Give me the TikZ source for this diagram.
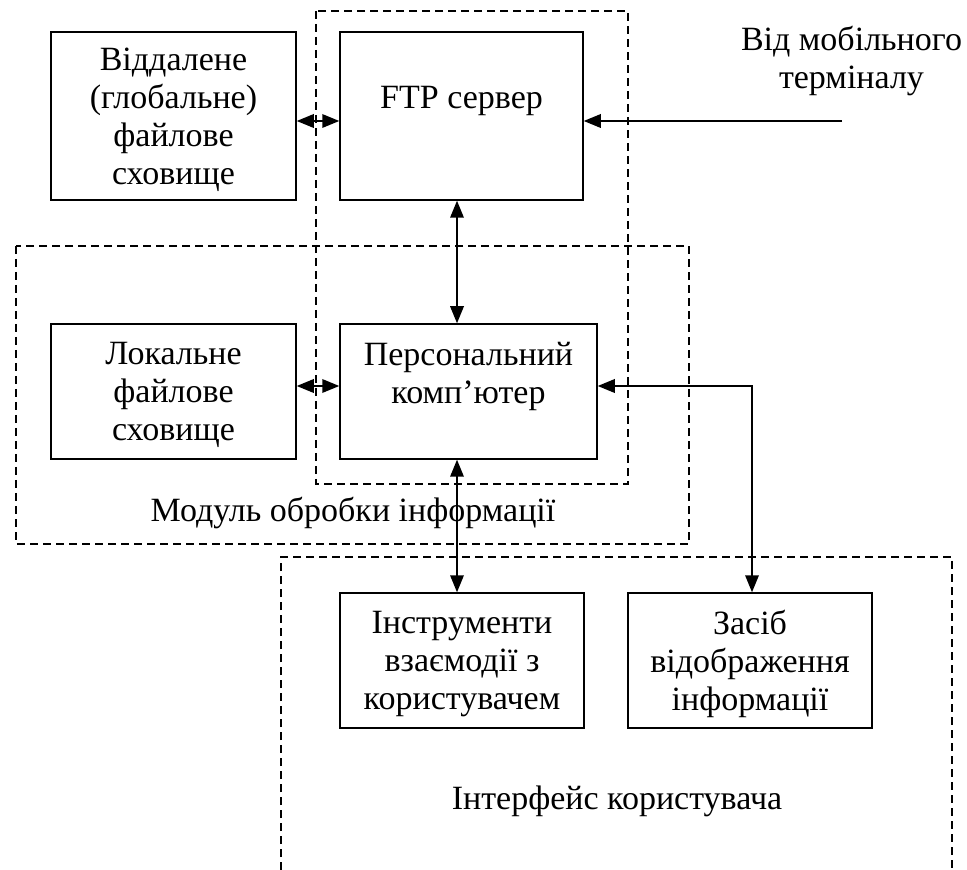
\documentclass[tikz,border=0pt]{standalone}
\usepackage{fontspec}
\setmainfont{Liberation Serif}
\usetikzlibrary{arrows.meta}
\definecolor{ink}{HTML}{000000}
\tikzset{
  every node/.style={font=\fontsize{17}{19}\selectfont,text=ink,inner sep=0pt,align=center},
  box/.style={draw=ink,line width=.75pt,minimum height=67.5pt,text depth=-2pt},
  link/.style={{Triangle[length=8.5pt,width=6.8pt]}-{Triangle[length=8.5pt,width=6.8pt]},
               draw=ink,line width=.75pt},
  feed/.style={-{Triangle[length=8.5pt,width=6.8pt]},draw=ink,line width=.75pt},
  region/.style={draw=ink,line width=.7pt,dash pattern=on 4pt off 2.5pt},
}

\begin{document}
\begin{tikzpicture}[x=.5pt,y=-.5pt]           % pixel grid, y down
\path[use as bounding box] (0,0) rectangle (967,870);

% Dashed groupings: server side, processing module, user interface (open at the bottom).
\draw[region] (316,11) rectangle (628,484);
\draw[region] (16,246) rectangle (689,544);
\draw[region] (281,870) -- (281,557) -- (952,557) -- (952,870);

% Blocks
\node[box,minimum width=122.5pt,minimum height=84pt] (remote) at (173.5,116)
      {Віддалене\\(глобальне)\\файлове\\сховище};
\node[box,minimum width=121.5pt,minimum height=84pt] (ftp) at (461.5,116)
      {FTP сервер\\\strut};
\node[box,minimum width=122.5pt] (local) at (173.5,391.5) {Локальне\\файлове\\сховище};
\node[box,minimum width=128.5pt] (pc) at (468.5,391.5) {Персональний\\комп’ютер\\\strut};
\node[box,minimum width=122pt] (tools) at (462,660.5) {Інструменти\\взаємодії з\\користувачем};
\node[box,minimum width=122pt] (display) at (750,660.5) {Засіб\\відображення\\інформації};

% Labels
\node (mobile) at (851.5,61) {Від мобільного\\терміналу};
\node (modlabel) at (353,513) {Модуль обробки інформації};
\node (uilabel) at (617,801) {Інтерфейс користувача};

% Connectors
\coordinate (mob) at (842,121);
\coordinate (bus) at (457,0);
\draw[link] ([yshift=-2.5pt]remote.east) -- ([yshift=-2.5pt]ftp.west);
\draw[feed] (mob) -- (mob -| ftp.east);
\draw[link] (ftp.south -| bus) -- (pc.north -| bus);
\draw[link] (pc.south -| bus) -- (tools.north -| bus);
\draw[link] ([yshift=2.75pt]local.east) -- ([yshift=2.75pt]pc.west);
\draw[link] ([yshift=2.75pt]pc.east) -| ([xshift=1pt]display.north);

\end{tikzpicture}
\end{document}
